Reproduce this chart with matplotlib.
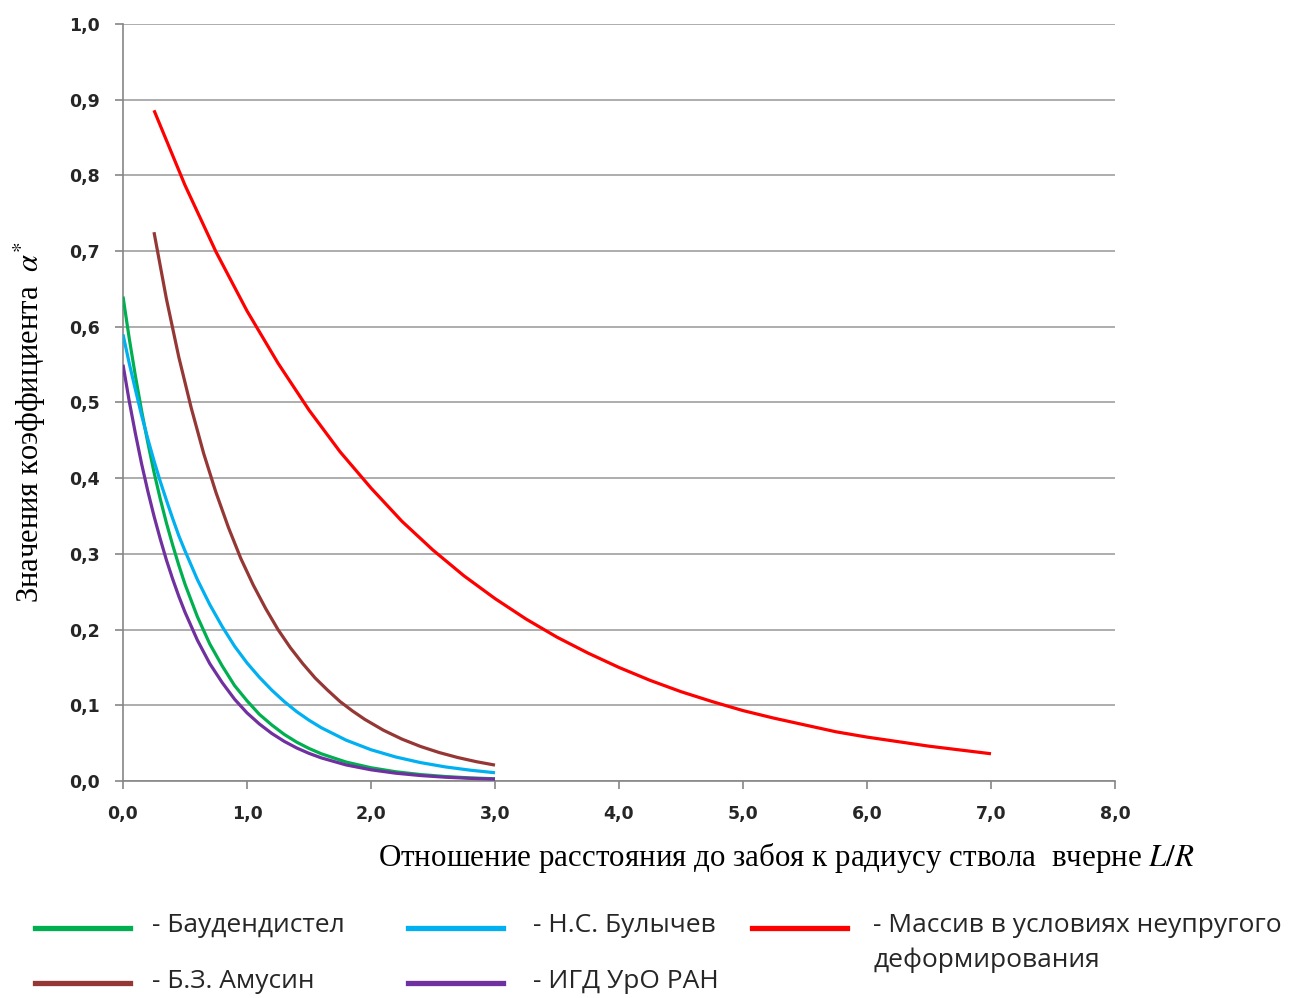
import matplotlib
matplotlib.use("Agg")
import matplotlib.pyplot as plt
from matplotlib.lines import Line2D
from matplotlib.ticker import FuncFormatter, MultipleLocator

plt.rcParams['mathtext.fontset'] = 'stix'

# --- данные ---
x_short = [0, 0.05, 0.1, 0.15, 0.2, 0.25, 0.3, 0.35, 0.4, 0.45, 0.5,
           0.6, 0.7, 0.8, 0.9, 1.0, 1.1, 1.2, 1.3, 1.4, 1.5, 1.6,
           1.8, 2.0, 2.2, 2.4, 2.6, 2.8, 3.0]
y_baudendistel = [0.640, 0.585, 0.535, 0.489, 0.447, 0.408, 0.373, 0.341, 0.312, 0.285, 0.260,
                  0.217, 0.181, 0.152, 0.126, 0.106, 0.088, 0.074, 0.0616, 0.0514, 0.0430, 0.0359,
                  0.0250, 0.0175, 0.0122, 0.0085, 0.0059, 0.0041, 0.0029]
y_bulychev = [0.590, 0.552, 0.517, 0.483, 0.452, 0.423, 0.396, 0.371, 0.347, 0.324, 0.304,
              0.266, 0.233, 0.204, 0.178, 0.156, 0.137, 0.120, 0.105, 0.0917, 0.0803, 0.0703,
              0.0539, 0.0413, 0.0317, 0.0243, 0.0186, 0.0143, 0.0109]
y_igd = [0.550, 0.502, 0.459, 0.419, 0.383, 0.350, 0.320, 0.292, 0.267, 0.244, 0.223,
         0.186, 0.155, 0.130, 0.108, 0.090, 0.0753, 0.0628, 0.0524, 0.0437, 0.0365, 0.0305,
         0.0212, 0.0148, 0.0103, 0.0072, 0.0050, 0.0035, 0.0025]

x_amusin = [0.25, 0.35, 0.45, 0.55, 0.65, 0.75, 0.85, 0.95, 1.05, 1.15, 1.25, 1.35,
            1.45, 1.55, 1.65, 1.75, 1.85, 1.95, 2.1, 2.25, 2.4, 2.55, 2.7, 2.85, 3.0]
y_amusin = [0.725, 0.637, 0.560, 0.493, 0.433, 0.381, 0.335, 0.294, 0.259, 0.228, 0.200, 0.176,
            0.155, 0.136, 0.120, 0.105, 0.0926, 0.0814, 0.0671, 0.0553, 0.0456, 0.0376, 0.0310,
            0.0255, 0.0210]

x_massiv = [0.25, 0.5, 0.75, 1.0, 1.25, 1.5, 1.75, 2.0, 2.25, 2.5, 2.75, 3.0, 3.25, 3.5,
            3.75, 4.0, 4.25, 4.5, 4.75, 5.0, 5.25, 5.5, 5.75, 6.0, 6.25, 6.5, 6.75, 7.0]
y_massiv = [0.886, 0.787, 0.699, 0.621, 0.552, 0.490, 0.435, 0.387, 0.343, 0.305, 0.271, 0.241,
            0.214, 0.190, 0.169, 0.150, 0.133, 0.118, 0.105, 0.093, 0.083, 0.074, 0.065, 0.058,
            0.052, 0.046, 0.041, 0.036]

series = [
    ("- Баудендистел", x_short, y_baudendistel, "#00B050"),
    ("- Н.С. Булычев", x_short, y_bulychev, "#00B0F0"),
    ("- Массив в условиях неупругого\nдеформирования", x_massiv, y_massiv, "#FF0000"),
    ("- Б.З. Амусин", x_amusin, y_amusin, "#953735"),
    ("- ИГД УрО РАН", x_short, y_igd, "#7030A0"),
]

W, H = 1300, 998
fig = plt.figure(figsize=(W / 100, H / 100), dpi=100)
ax = fig.add_axes([123 / W, 1 - 781 / H, (1115 - 123) / W, (781 - 24) / H])

lines = {}
for label, xs, ys, col in series:
    ln, = ax.plot(xs, ys, color=col, lw=2.3, solid_capstyle='butt', zorder=3)
    lines[label] = ln

ax.set_xlim(0, 8)
ax.set_ylim(0, 1.0)
ax.xaxis.set_major_locator(MultipleLocator(1.0))
ax.yaxis.set_major_locator(MultipleLocator(0.1))
fmt = FuncFormatter(lambda v, p: f"{v:.1f}".replace('.', ','))
ax.xaxis.set_major_formatter(fmt)
ax.yaxis.set_major_formatter(fmt)

ax.grid(axis='y', color='#A0A0A0', lw=1.2)
ax.set_axisbelow(True)
for s in ('top', 'right'):
    ax.spines[s].set_visible(False)
for s in ('left', 'bottom'):
    ax.spines[s].set_color('#868686')
    ax.spines[s].set_linewidth(1.2)
ax.tick_params(direction='out', length=6, width=1.2, color='#868686',
               labelsize=12.5, labelcolor='#262626', pad=11)
for t in ax.get_xticklabels() + ax.get_yticklabels():
    t.set_fontweight('bold')

# подписи осей
fig.text(786 / W, 1 - 858 / H,
         r"Отношение расстояния до забоя к радиусу ствола  вчерне $L/R$",
         family='Liberation Serif', fontsize=22.3, ha='center', va='center')
fig.text(30 / W, 1 - 422 / H, r"Значения коэффициента  $\alpha^{*}$",
         family='Liberation Serif', fontsize=22, ha='center', va='center',
         rotation=90)

# легенда вручную
leg_font = ['Open Sans', 'DejaVu Sans']
slots = [(35, 130, 152, 928), (408, 503, 533, 928), (752, 847, 873, 928),
         (35, 130, 152, 983), (408, 503, 533, 983)]
for (label, xs, ys, col), (x0, x1, tx, ty) in zip(series, slots):
    fig.add_artist(Line2D([x0 / W, x1 / W], [1 - ty / H, 1 - ty / H],
                          transform=fig.transFigure, color=lines[label].get_color(),
                          lw=3.8))
    for i, part in enumerate(label.split('\n')):
        fig.text(tx / W, 1 - (ty - 2 + 34 * i) / H, part, family=leg_font,
                 fontsize=19, ha='left', va='center', color='#262626')

fig.savefig("out.png", dpi=100)
